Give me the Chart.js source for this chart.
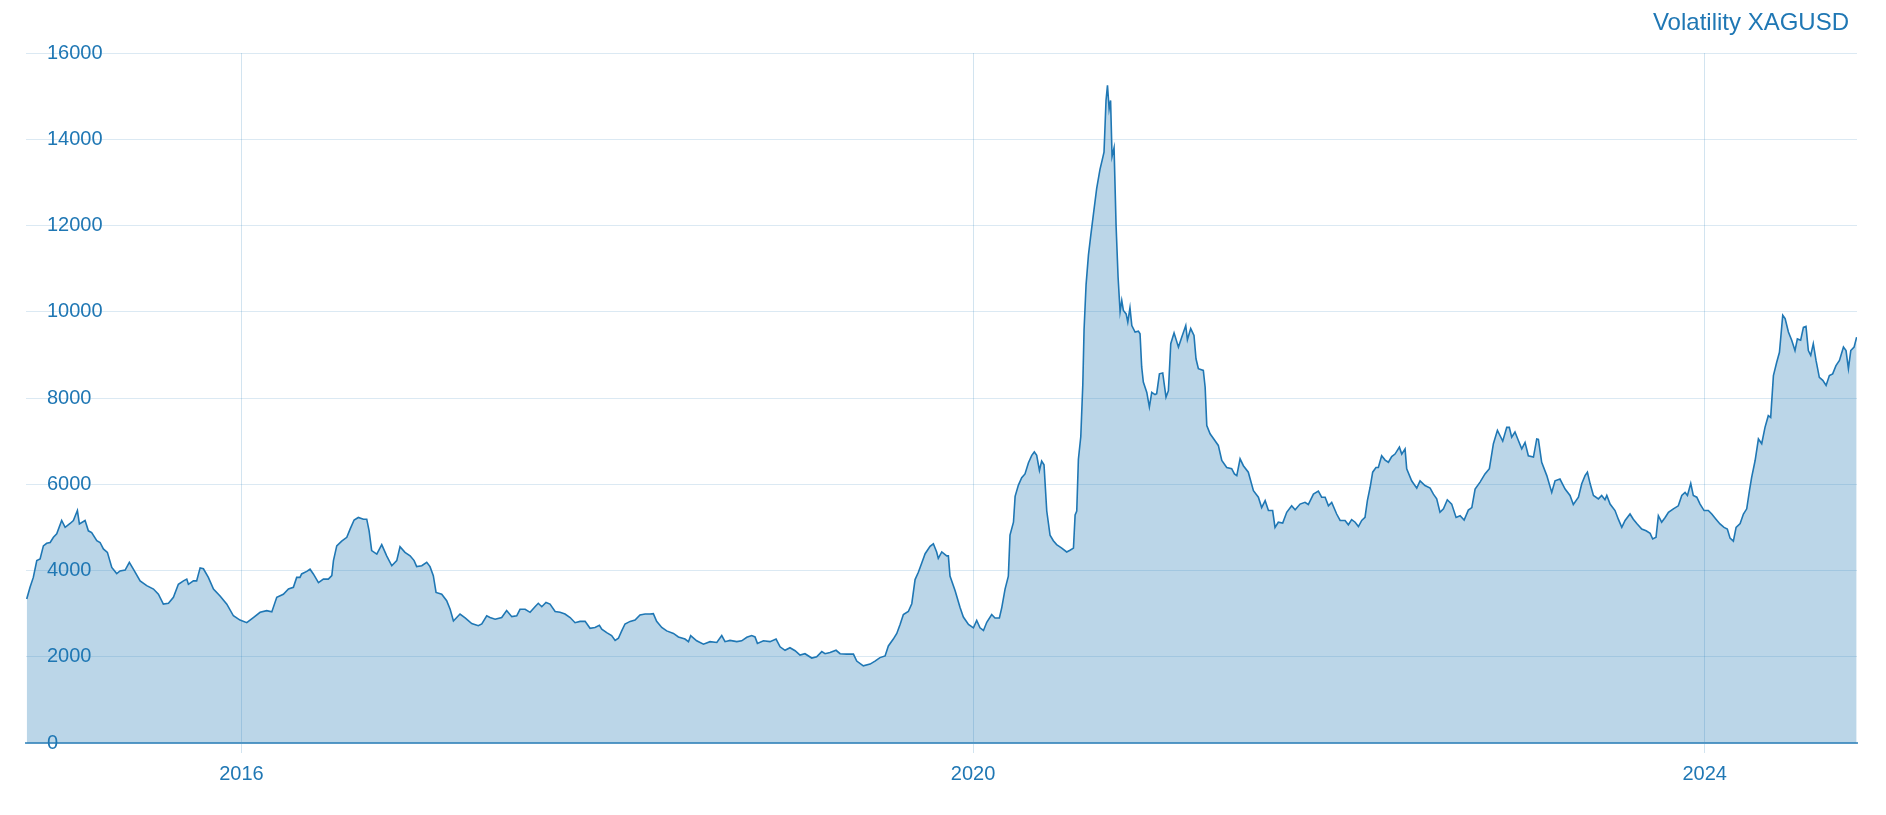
<!DOCTYPE html>
<html>
<head>
<meta charset="utf-8">
<title>Volatility XAGUSD</title>
<script src="https://cdn.jsdelivr.net/npm/chart.js@4.4.1/dist/chart.umd.min.js"></script>
<style>
  html, body { margin: 0; padding: 0; background: #fff; }
  #wrap { width: 1886px; height: 815px; }
</style>
</head>
<body>
<div id="wrap"><canvas id="volChart" width="1886" height="815"></canvas></div>
<script>
// Volatility XAGUSD (x = decimal year)
const chartTitle = 'Volatility XAGUSD';

const dates = [
  2014.826, 2014.844, 2014.862, 2014.881, 2014.899, 2014.917, 2014.935, 2014.954, 2014.972, 2014.990,
  2015.017, 2015.036, 2015.063, 2015.081, 2015.103, 2015.114, 2015.145, 2015.163, 2015.181, 2015.209,
  2015.227, 2015.245, 2015.267, 2015.291, 2015.318, 2015.336, 2015.364, 2015.387, 2015.409, 2015.446,
  2015.482, 2015.519, 2015.546, 2015.573, 2015.601, 2015.628, 2015.655, 2015.683, 2015.701, 2015.710,
  2015.737, 2015.755, 2015.774, 2015.792, 2015.819, 2015.847, 2015.883, 2015.920, 2015.956, 2015.992,
  2016.029, 2016.065, 2016.102, 2016.138, 2016.166, 2016.193, 2016.229, 2016.257, 2016.284, 2016.302,
  2016.320, 2016.329, 2016.357, 2016.375, 2016.393, 2016.421, 2016.448, 2016.475, 2016.494, 2016.503,
  2016.521, 2016.548, 2016.576, 2016.594, 2016.616, 2016.639, 2016.667, 2016.685, 2016.698, 2016.712,
  2016.740, 2016.767, 2016.794, 2016.822, 2016.849, 2016.867, 2016.894, 2016.922, 2016.944, 2016.958,
  2016.986, 2017.013, 2017.031, 2017.049, 2017.064, 2017.095, 2017.122, 2017.141, 2017.159, 2017.195,
  2017.223, 2017.259, 2017.295, 2017.314, 2017.341, 2017.359, 2017.387, 2017.423, 2017.450, 2017.478,
  2017.505, 2017.523, 2017.551, 2017.578, 2017.605, 2017.623, 2017.642, 2017.665, 2017.687, 2017.715,
  2017.742, 2017.769, 2017.797, 2017.824, 2017.851, 2017.879, 2017.906, 2017.933, 2017.957, 2017.970,
  2017.997, 2018.024, 2018.043, 2018.061, 2018.079, 2018.097, 2018.125, 2018.152, 2018.179, 2018.207,
  2018.234, 2018.252, 2018.270, 2018.298, 2018.325, 2018.362, 2018.389, 2018.425, 2018.444, 2018.456,
  2018.489, 2018.526, 2018.562, 2018.599, 2018.626, 2018.644, 2018.671, 2018.708, 2018.735, 2018.763,
  2018.790, 2018.808, 2018.821, 2018.854, 2018.890, 2018.923, 2018.945, 2018.972, 2018.999, 2019.027,
  2019.054, 2019.081, 2019.118, 2019.145, 2019.173, 2019.191, 2019.218, 2019.251, 2019.273, 2019.309,
  2019.346, 2019.364, 2019.400, 2019.437, 2019.464, 2019.491, 2019.519, 2019.537, 2019.564, 2019.583,
  2019.601, 2019.619, 2019.646, 2019.665, 2019.683, 2019.701, 2019.719, 2019.738, 2019.765, 2019.783,
  2019.801, 2019.810, 2019.829, 2019.856, 2019.865, 2019.874, 2019.902, 2019.929, 2019.947, 2019.975,
  2020.002, 2020.020, 2020.038, 2020.057, 2020.075, 2020.102, 2020.120, 2020.144, 2020.157, 2020.175,
  2020.193, 2020.202, 2020.221, 2020.230, 2020.248, 2020.266, 2020.284, 2020.303, 2020.321, 2020.335,
  2020.348, 2020.363, 2020.375, 2020.388, 2020.403, 2020.421, 2020.439, 2020.457, 2020.485, 2020.512,
  2020.530, 2020.549, 2020.558, 2020.567, 2020.576, 2020.589, 2020.600, 2020.607, 2020.618, 2020.631,
  2020.643, 2020.658, 2020.676, 2020.694, 2020.705, 2020.716, 2020.727, 2020.735, 2020.744, 2020.752,
  2020.760, 2020.771, 2020.782, 2020.793, 2020.804, 2020.813, 2020.822, 2020.837, 2020.846, 2020.858,
  2020.868, 2020.886, 2020.904, 2020.913, 2020.922, 2020.931, 2020.950, 2020.964, 2020.977, 2020.995,
  2021.004, 2021.019, 2021.037, 2021.055, 2021.068, 2021.081, 2021.099, 2021.123, 2021.141, 2021.163,
  2021.172, 2021.190, 2021.208, 2021.219, 2021.232, 2021.259, 2021.269, 2021.278, 2021.296, 2021.323,
  2021.341, 2021.360, 2021.387, 2021.414, 2021.429, 2021.442, 2021.460, 2021.478, 2021.505, 2021.533,
  2021.560, 2021.578, 2021.597, 2021.615, 2021.638, 2021.651, 2021.669, 2021.693, 2021.715, 2021.742,
  2021.761, 2021.788, 2021.815, 2021.833, 2021.861, 2021.888, 2021.906, 2021.925, 2021.943, 2021.961,
  2021.988, 2022.007, 2022.034, 2022.052, 2022.070, 2022.089, 2022.107, 2022.125, 2022.143, 2022.156,
  2022.171, 2022.185, 2022.203, 2022.216, 2022.234, 2022.253, 2022.271, 2022.289, 2022.307, 2022.331,
  2022.344, 2022.362, 2022.371, 2022.398, 2022.426, 2022.444, 2022.471, 2022.499, 2022.517, 2022.535,
  2022.553, 2022.572, 2022.593, 2022.617, 2022.641, 2022.663, 2022.685, 2022.708, 2022.727, 2022.745,
  2022.772, 2022.799, 2022.823, 2022.845, 2022.867, 2022.881, 2022.896, 2022.918, 2022.932, 2022.945,
  2022.963, 2022.982, 2023.000, 2023.018, 2023.036, 2023.064, 2023.082, 2023.091, 2023.109, 2023.137,
  2023.164, 2023.182, 2023.209, 2023.237, 2023.264, 2023.282, 2023.310, 2023.328, 2023.346, 2023.359,
  2023.374, 2023.392, 2023.419, 2023.437, 2023.455, 2023.465, 2023.483, 2023.510, 2023.528, 2023.547,
  2023.565, 2023.592, 2023.610, 2023.629, 2023.656, 2023.680, 2023.702, 2023.716, 2023.734, 2023.747,
  2023.765, 2023.784, 2023.802, 2023.829, 2023.856, 2023.875, 2023.893, 2023.906, 2023.924, 2023.938,
  2023.957, 2023.975, 2023.997, 2024.020, 2024.039, 2024.062, 2024.084, 2024.106, 2024.124, 2024.139,
  2024.157, 2024.172, 2024.194, 2024.212, 2024.230, 2024.245, 2024.257, 2024.276, 2024.294, 2024.312,
  2024.330, 2024.348, 2024.361, 2024.376, 2024.394, 2024.409, 2024.427, 2024.440, 2024.458, 2024.476,
  2024.494, 2024.507, 2024.525, 2024.540, 2024.554, 2024.567, 2024.580, 2024.594, 2024.609, 2024.627,
  2024.646, 2024.664, 2024.682, 2024.700, 2024.718, 2024.737, 2024.759, 2024.773, 2024.786, 2024.799,
  2024.817, 2024.831
];

const volatility = [
  3340, 3610, 3840, 4230, 4270, 4570, 4630, 4650, 4770, 4850,
  5160, 5000, 5090, 5160, 5390, 5080, 5160, 4920, 4880, 4690,
  4650, 4500, 4420, 4070, 3930, 3990, 4010, 4190, 4030, 3760,
  3650, 3570, 3450, 3220, 3240, 3380, 3680, 3760, 3800, 3680,
  3760, 3760, 4060, 4040, 3840, 3570, 3410, 3220, 2950, 2850,
  2790, 2910, 3030, 3070, 3040, 3380, 3450, 3570, 3610, 3840,
  3840, 3920, 3980, 4030, 3920, 3720, 3800, 3800, 3880, 4230,
  4570, 4680, 4770, 4960, 5170, 5230, 5190, 5190, 4920, 4460,
  4380, 4600, 4340, 4110, 4230, 4550, 4420, 4340, 4230, 4090,
  4110, 4190, 4090, 3880, 3490, 3450, 3300, 3100, 2830, 2990,
  2900, 2770, 2720, 2760, 2950, 2910, 2870, 2910, 3070, 2930,
  2950, 3100, 3100, 3030, 3160, 3240, 3160, 3260, 3220, 3050,
  3030, 2990, 2910, 2790, 2820, 2820, 2660, 2680, 2730, 2640,
  2560, 2490, 2380, 2430, 2600, 2760, 2820, 2850, 2970, 2990,
  2990, 3000, 2820, 2680, 2600, 2540, 2460, 2410, 2350, 2490,
  2370, 2290, 2350, 2330, 2490, 2350, 2380, 2350, 2370, 2450,
  2490, 2460, 2310, 2370, 2350, 2410, 2230, 2150, 2210, 2140,
  2040, 2070, 1970, 2000, 2120, 2070, 2100, 2150, 2070, 2060,
  2060, 1900, 1790, 1830, 1900, 1980, 2020, 2250, 2410, 2540,
  2750, 2980, 3050, 3230, 3790, 3960, 4170, 4390, 4560, 4620,
  4430, 4280, 4430, 4340, 4340, 3870, 3530, 3140, 2920, 2750,
  2670, 2840, 2670, 2610, 2800, 2980, 2900, 2900, 3140, 3570,
  3870, 4820, 5120, 5720, 5980, 6150, 6240, 6500, 6670, 6750,
  6670, 6320, 6540, 6450, 5380, 4820, 4690, 4600, 4520, 4430,
  4470, 4520, 5290, 5380, 6580, 7100, 8300, 9590, 10630, 11320,
  11750, 12260, 12860, 13300, 13500, 13700, 14900, 15250, 14700, 14900,
  13600, 13800, 12000, 10800, 10000, 10260, 10030, 9950, 9760, 10090,
  9680, 9530, 9550, 9490, 8720, 8370, 8130, 7790, 8130, 8080,
  8100, 8560, 8580, 8020, 8170, 9260, 9510, 9180, 9410, 9680,
  9350, 9610, 9450, 8910, 8680, 8640, 8250, 7360, 7170, 7010,
  6900, 6550, 6390, 6360, 6240, 6200, 6590, 6430, 6280, 5850,
  5700, 5460, 5620, 5390, 5390, 5000, 5120, 5100, 5350, 5500,
  5410, 5540, 5580, 5530, 5770, 5840, 5700, 5700, 5500, 5580,
  5310, 5160, 5160, 5060, 5180, 5120, 5020, 5160, 5230, 5620,
  5930, 6280, 6390, 6390, 6660, 6560, 6510, 6640, 6700, 6860,
  6700, 6820, 6360, 6080, 5910, 6080, 5970, 5910, 5770, 5660,
  5350, 5430, 5640, 5540, 5230, 5270, 5170, 5400, 5460, 5890,
  6050, 6240, 6360, 6940, 7250, 7130, 7000, 7320, 7320, 7090,
  7210, 7010, 6820, 6970, 6660, 6630, 7050, 7040, 6510, 6200,
  5810, 6080, 6120, 5890, 5740, 5530, 5700, 6010, 6200, 6280,
  6010, 5740, 5660, 5740, 5640, 5740, 5540, 5390, 5190, 5000,
  5160, 5310, 5190, 5090, 4960, 4920, 4860, 4730, 4770, 5270,
  5120, 5230, 5350, 5430, 5500, 5740, 5810, 5740, 6020, 5740,
  5700, 5540, 5390, 5390, 5310, 5190, 5080, 5000, 4960, 4750,
  4680, 5000, 5090, 5310, 5430, 5850, 6160, 6550, 7050, 6940,
  7320, 7590, 7550, 8520, 8830, 9060, 9920, 9840, 9530, 9340,
  9100, 9370, 9340, 9640, 9660, 9100, 8990, 9260, 8870, 8480,
  8410, 8290, 8520, 8560, 8750, 8870, 9180, 9100, 8680, 9100,
  9180, 9410
];

const yearTicks = [2016, 2020, 2024];
const valueTicks = [0, 2000, 4000, 6000, 8000, 10000, 12000, 14000, 16000];

const BLUE = '#1f77b4';
const FONT = '"Liberation Sans", Arial, Helvetica, sans-serif';

const points = dates.map(function (d, i) { return { x: d, y: volatility[i] }; });

// title in the top right corner, just above the plot
const cornerTitle = {
    id: 'cornerTitle',
    afterDraw: function (chart) {
        const ctx = chart.ctx;
        ctx.save();
        ctx.font = '24px ' + FONT;
        ctx.fillStyle = BLUE;
        ctx.textAlign = 'right';
        ctx.textBaseline = 'middle';
        ctx.fillText(chartTitle, chart.chartArea.right - 8, 23);
        ctx.restore();
    }
};

new Chart(document.getElementById('volChart'), {
    type: 'line',
    data: {
        datasets: [{
            label: chartTitle,
            data: points,
            borderColor: BLUE,
            borderWidth: 1.6,
            backgroundColor: 'rgba(31, 119, 180, 0.3)',
            fill: 'origin',
            pointRadius: 0,
            tension: 0
        }]
    },
    options: {
        responsive: false,
        animation: false,
        layout: { padding: { left: 26, right: 29, top: 53, bottom: 20 } },
        plugins: {
            legend: { display: false },
            tooltip: { enabled: false }
        },
        scales: {
            x: {
                type: 'linear',
                min: 2014.822,
                max: 2024.833,
                afterBuildTicks: function (axis) {
                    axis.ticks = yearTicks.map(function (v) { return { value: v }; });
                },
                grid: {
                    color: 'rgba(31, 119, 180, 0.2)',
                    lineWidth: 1,
                    drawTicks: true,
                    tickLength: 10
                },
                border: { display: true, color: 'rgba(31, 119, 180, 0.7)', width: 2 },
                ticks: {
                    color: BLUE,
                    font: { family: FONT, size: 20 },
                    padding: 9,
                    maxRotation: 0,
                    callback: function (v) { return String(v); }
                }
            },
            y: {
                min: 0,
                max: 16000,
                afterBuildTicks: function (axis) {
                    axis.ticks = valueTicks.map(function (v) { return { value: v }; });
                },
                // labels sit inside the plot, so the axis itself takes no room
                afterFit: function (axis) { axis.width = 0; },
                grid: {
                    color: 'rgba(31, 119, 180, 0.16)',
                    lineWidth: 1,
                    drawTicks: false
                },
                border: { display: false },
                ticks: {
                    mirror: true,
                    padding: 21,
                    color: BLUE,
                    font: { family: FONT, size: 20 },
                    callback: function (v) { return String(v); }
                }
            }
        }
    },
    plugins: [cornerTitle]
});
</script>
</body>
</html>
